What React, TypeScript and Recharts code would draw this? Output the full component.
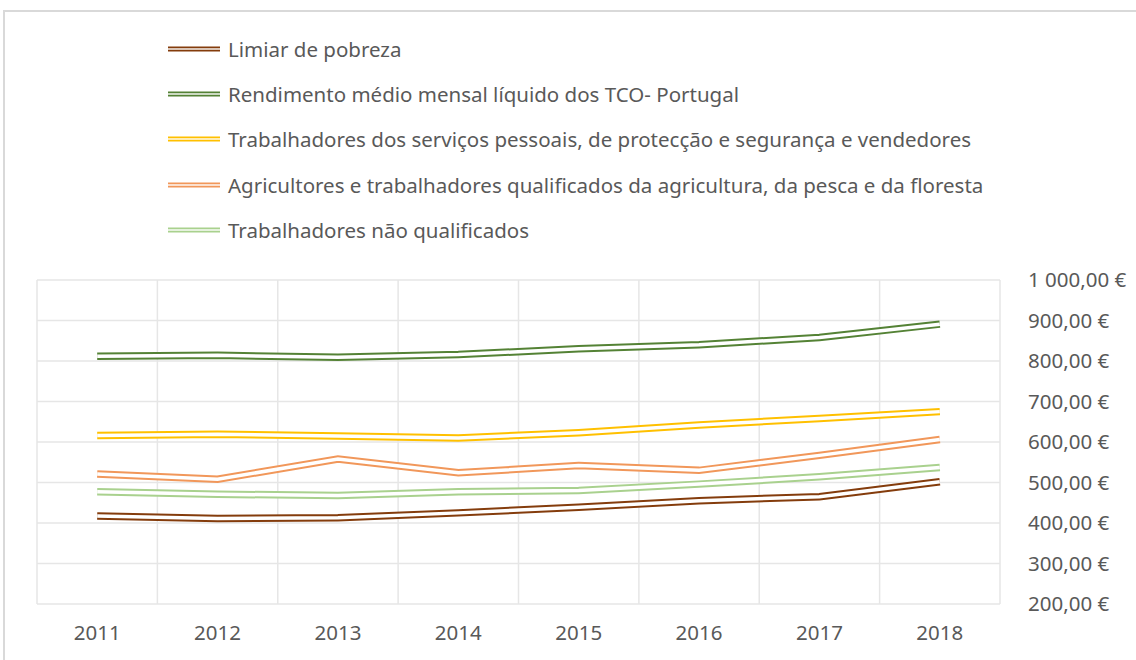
import { LineChart, Line, XAxis, YAxis, CartesianGrid } from 'recharts'

const years = ['2011', '2012', '2013', '2014', '2015', '2016', '2017', '2018']
const limiarPobreza = [417, 411, 413, 425, 439, 455, 465, 502]
const rendimentoMedio = [812, 814, 809, 816, 830, 840, 858, 891]
const servicosPessoais = [616, 619, 615, 610, 623, 642, 658, 675]
const agricultores = [521, 508, 558, 524, 542, 530, 567, 606]
const naoQualificados = [477, 471, 468, 477, 480, 496, 514, 537]
const yTicks = [200, 300, 400, 500, 600, 700, 800, 900, 1000]

const series = [
  { key: 'limiar', name: 'Limiar de pobreza', color: '#843C0C', values: limiarPobreza },
  { key: 'rendimento', name: 'Rendimento médio mensal líquido dos TCO- Portugal', color: '#548235', values: rendimentoMedio },
  { key: 'servicos', name: 'Trabalhadores dos serviços pessoais, de protecção e segurança e vendedores', color: '#FFC000', values: servicosPessoais },
  { key: 'agricultores', name: 'Agricultores e trabalhadores qualificados da agricultura, da pesca e da floresta', color: '#F1975A', values: agricultores },
  { key: 'naoQualificados', name: 'Trabalhadores não qualificados', color: '#A9D18E', values: naoQualificados },
]

const data = years.map((year, i) => {
  const row: Record<string, number | string> = { year, idx: i }
  series.forEach(s => { row[s.key] = s.values[i] })
  return row
})

const catTicks = years.map((_, i) => i)
const boundaryTicks = [...catTicks.map(i => i - 0.5), years.length - 0.5]

const font = '"Noto Sans", sans-serif'
const textColor = '#595959'
const fontSize = 20.5

const euro = (v: number) => {
  const [int, dec] = v.toFixed(2).split('.')
  return `${int.replace(/\B(?=(\d{3})+(?!\d))/g, ' ')},${dec} €`
}

function DoubleLineIcon({ color }: { color: string }) {
  return (
    <svg width={52} height={6} style={{ display: 'block' }}>
      <rect x={0} y={0.5} width={52} height={5} fill={color} />
      <rect x={0} y={2.3} width={52} height={1.4} fill="#fff" />
    </svg>
  )
}

export default function App() {
  return (
    <div style={{ position: 'absolute', left: 0, top: 0, width: 1136, height: 660, background: '#fff', overflow: 'hidden', fontFamily: font }}>
      <div style={{ position: 'absolute', left: 3, top: 10, width: 1140, height: 700, borderTop: '2px solid #D9D9D9', borderLeft: '2px solid #D9D9D9' }} />
      <div style={{ position: 'absolute', left: 168, top: 26 }}>
        {series.map(s => (
          <div key={s.key} style={{ display: 'flex', alignItems: 'center', height: 45.3 }}>
            <DoubleLineIcon color={s.color} />
            <span style={{ marginLeft: 8, fontSize, color: textColor, whiteSpace: 'nowrap' }}>{s.name}</span>
          </div>
        ))}
      </div>
      <div style={{ position: 'absolute', left: 0, top: 0 }}>
        <LineChart width={1136} height={660} data={data} margin={{ top: 280, right: 10, bottom: 0, left: 37 }}>
          <CartesianGrid xAxisId="grid" stroke="#E6E6E6" strokeWidth={1.5} />
          <XAxis xAxisId="grid" type="number" dataKey="idx" domain={[-0.5, years.length - 0.5]} ticks={boundaryTicks} hide />
          <XAxis
            type="number"
            dataKey="idx"
            domain={[-0.5, years.length - 0.5]}
            ticks={catTicks}
            tickFormatter={(i: number) => years[i]}
            height={56}
            axisLine={false}
            tickLine={false}
            tickMargin={15}
            tick={{ fill: textColor, fontSize, fontFamily: font }}
          />
          <YAxis
            orientation="right"
            domain={[200, 1000]}
            ticks={yTicks}
            tickFormatter={euro}
            width={126}
            axisLine={false}
            tickLine={false}
            tickMargin={22}
            tick={{ fill: textColor, fontSize, fontFamily: font, textAnchor: 'start' }}
          />
          {series.flatMap(s => [
            <Line key={s.key} type="linear" dataKey={s.key} name={s.name} stroke={s.color} strokeWidth={7.5} dot={false} activeDot={false} isAnimationActive={false} />,
            <Line key={s.key + '-inner'} type="linear" dataKey={s.key} stroke="#ffffff" strokeWidth={3.5} dot={false} activeDot={false} legendType="none" isAnimationActive={false} />,
          ])}
        </LineChart>
      </div>
    </div>
  )
}
